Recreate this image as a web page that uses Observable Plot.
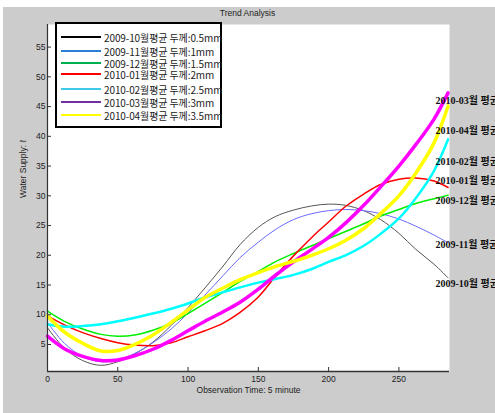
<!DOCTYPE html>
<html><head><meta charset="utf-8">
<script src="https://cdn.jsdelivr.net/npm/d3@7"></script>
<script src="https://cdn.jsdelivr.net/npm/@observablehq/plot@0.6"></script>
<style>
body{margin:0;background:#fff;}
#wrap{position:relative;width:495px;height:413px;overflow:hidden}
#bg{position:absolute;left:3px;top:7px;right:0;bottom:0;background:#cccccc}
#chart{position:absolute;left:0;top:0}
#title{position:absolute;left:0;width:495px;top:8px;text-align:center;font:8.5px "Liberation Sans",Arial,sans-serif;color:#222}
#legend{position:absolute;left:55px;top:22px;width:163px;height:102px;border:2px solid #000;background:#fff}
.row{position:absolute;left:0;height:11px;width:163px}
.sw{position:absolute;left:4px;width:40px;height:0;border-top:2px solid}
.lt{position:absolute;left:47px;top:0;font:10px "Noto Sans CJK KR",sans-serif;letter-spacing:-0.1px;color:#222;white-space:nowrap;line-height:11px}
</style>
</head><body>
<div id="wrap"><div id="bg"></div><div id="chart"></div><div id="title"></div><div id="legend"></div></div>
<script>
const titleText = "Trend Analysis";
const xLabel = "Observation Time: 5 minute";
const yLabel = "Water Supply: ℓ";
const xs = [0, 12, 25, 38, 50, 62, 75, 88, 100, 112, 125, 137, 150, 162, 175, 188, 200, 212, 225, 237, 250, 262, 275, 285];
const names = ["2009-10월평균 두께:0.5mm","2009-11월평균 두께:1mm","2009-12월평균 두께:1.5mm","2010-01월평균 두께:2mm","2010-02월평균 두께:2.5mm","2010-03월평균 두께:3mm","2010-04월평균 두께:3.5mm"];
const endLabels = ["2009-10월 평균","2009-11월 평균","2009-12월 평균","2010-01월 평균","2010-02월 평균","2010-03월 평균","2010-04월 평균"];
const endLabelY = [15.2, 21.7, 29.1, 32.6, 35.8, 46.0, 41.0];
const endLabelX = 276;
const s0910 = [7.8, 4.4, 2.3, 1.5, 2.1, 3.4, 5.4, 8.2, 11.2, 14.5, 18.2, 21.8, 24.7, 26.5, 27.6, 28.3, 28.6, 28.4, 27.5, 26.0, 23.7, 21.0, 18.5, 16.2];
const s0911 = [8.7, 5.2, 3.0, 2.1, 2.4, 3.5, 5.3, 7.6, 10.3, 13.3, 16.6, 19.6, 22.2, 24.3, 26.0, 27.0, 27.5, 27.7, 27.5, 27.0, 26.1, 24.9, 23.4, 22.1];
const s0912 = [10.6, 8.9, 7.6, 6.7, 6.4, 6.6, 7.4, 8.6, 10.2, 11.9, 13.8, 15.6, 17.3, 18.9, 20.3, 21.6, 22.8, 24.0, 25.3, 26.6, 27.7, 28.7, 29.5, 30.1];
const s1001 = [9.8, 8.3, 7.0, 6.0, 5.3, 4.9, 4.8, 5.3, 6.3, 7.3, 8.6, 10.4, 13.0, 16.4, 19.9, 23.0, 25.6, 28.2, 30.3, 31.9, 32.8, 33.0, 32.5, 31.4];
const s1002 = [8.4, 8.0, 8.1, 8.4, 8.9, 9.5, 10.2, 11.0, 11.9, 12.9, 13.8, 14.6, 15.4, 16.0, 16.7, 17.7, 18.9, 20.0, 21.6, 23.6, 26.2, 29.6, 34.2, 39.5];
const s1003 = [6.4, 4.3, 3.0, 2.3, 2.4, 3.1, 4.2, 5.7, 7.3, 8.9, 10.5, 12.1, 14.3, 16.6, 18.9, 21.0, 23.0, 25.4, 28.4, 31.5, 35.0, 38.6, 42.9, 47.3];
const s1004 = [9.8, 7.1, 5.2, 3.9, 4.0, 5.0, 6.6, 8.7, 10.8, 12.9, 14.5, 15.9, 17.1, 18.1, 19.0, 20.0, 21.1, 22.5, 24.5, 27.0, 30.0, 33.8, 38.9, 45.1];
const series = [s0910, s0911, s0912, s1001, s1002, s1003, s1004];
const lineColors = ["#555555", "#6a6aff", "#00ee00", "#ff0000", "#00ffff", "#ff00ff", "#ffff00"];
const lineWidths = [1, 1, 1.5, 1.5, 2.5, 3.5, 3.5];
const legendColors = ["#000000", "#2a7fd4", "#00b050", "#ff0000", "#40c8e8", "#7030a0", "#ffff00"];
const xTicks = [0, 50, 100, 150, 200, 250];
const yTicks = [5, 10, 15, 20, 25, 30, 35, 40, 45, 50, 55];
const xDomain = [0, 286];
const yDomain = [0.46, 58.8];

const rows = [];
series.forEach((vals, i) => vals.forEach((v, j) => rows.push({x: xs[j], y: v, k: i})));
const labelRows = endLabels.map((t, i) => ({t, y: endLabelY[i]}));

const marks = [Plot.frame({fill: "white", stroke: null})];
series.forEach((_, i) => {
  marks.push(Plot.line(rows.filter(d => d.k === i), {x: "x", y: "y", stroke: lineColors[i], strokeWidth: lineWidths[i], curve: "catmull-rom"}));
});
marks.push(
  Plot.ruleX([xDomain[0]], {stroke: "#333", strokeWidth: 1.2}),
  Plot.ruleY([yDomain[0]], {stroke: "#333", strokeWidth: 1.5}),
  Plot.axisX({ticks: xTicks, tickSize: -4, tickPadding: 8, label: null, fill: "#222", stroke: "#333"}),
  Plot.axisY({ticks: yTicks, tickSize: -4, tickPadding: 6, label: null, fill: "#222", stroke: "#333"}),
  Plot.text([xLabel], {frameAnchor: "bottom", dy: 21, text: d => d, fill: "#222"}),
  Plot.text([yLabel], {frameAnchor: "left", dx: -24, rotate: -90, text: d => d, fill: "#222"}),
  Plot.text(labelRows, {x: endLabelX, y: "y", text: "t", textAnchor: "start", fontSize: 10, fontFamily: "'Liberation Serif','Noto Sans CJK KR',serif", fontWeight: "bold", fill: "#111"})
);

const chart = Plot.plot({
  width: 495, height: 413,
  marginLeft: 47, marginRight: 46, marginTop: 24, marginBottom: 42,
  x: {domain: xDomain},
  y: {domain: yDomain},
  style: {background: "transparent", fontSize: "8.5px", fontFamily: "'Liberation Sans', Arial, sans-serif", overflow: "visible"},
  marks
});
document.getElementById("chart").appendChild(chart);
document.getElementById("title").textContent = titleText;

const rowTops = [7.5, 21.5, 33.5, 44.5, 59.5, 72.5, 85.5];
const lg = document.getElementById("legend");
names.forEach((n, i) => {
  const r = document.createElement("div");
  r.className = "row";
  r.style.top = rowTops[i] + "px";
  const sw = document.createElement("div");
  sw.className = "sw";
  sw.style.top = "4.5px";
  sw.style.borderColor = legendColors[i];
  const t = document.createElement("div");
  t.className = "lt";
  t.textContent = n;
  r.appendChild(sw); r.appendChild(t); lg.appendChild(r);
});
</script>
</body></html>
